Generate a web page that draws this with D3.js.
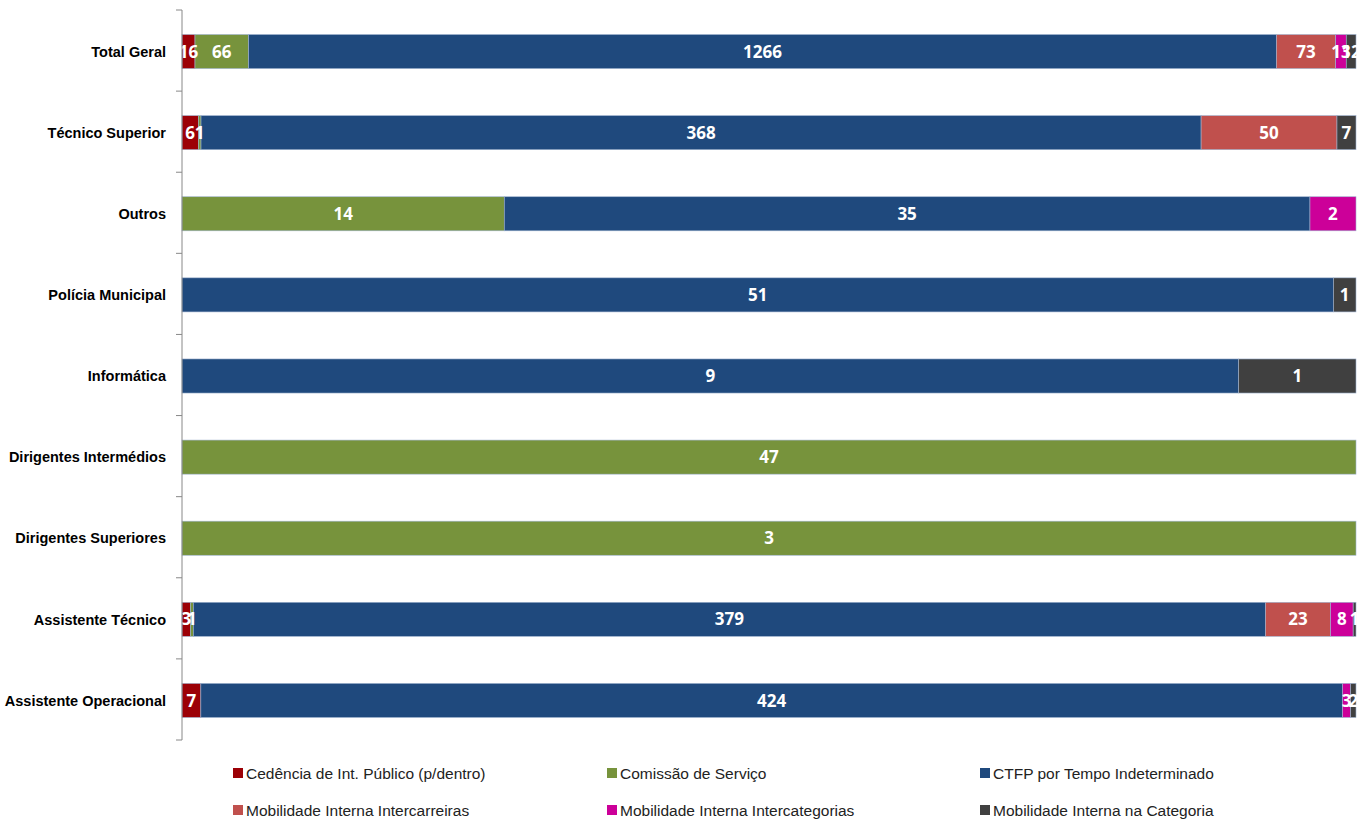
<!DOCTYPE html>
<html>
<head>
<meta charset="utf-8">
<script src="https://d3js.org/d3.v7.min.js"></script>
<style>
  body { margin: 0; background: #fff; }
  .cat text { font: bold 14.5px "Liberation Sans", Arial, sans-serif; fill: #000; }
  .val { font: bold 17px "Open Sans", "Liberation Sans", sans-serif; fill: #fff; }
  .leg text { font: 15.5px "Liberation Sans", sans-serif; fill: #222; }
</style>
</head>
<body>
<div id="chart"></div>
<script>
// categories, top to bottom
var categories = ["Total Geral", "Técnico Superior", "Outros", "Polícia Municipal", "Informática",
  "Dirigentes Intermédios", "Dirigentes Superiores", "Assistente Técnico", "Assistente Operacional"];

var seriesNames = ["Cedência de Int. Público (p/dentro)", "Comissão de Serviço", "CTFP por Tempo Indeterminado",
  "Mobilidade Interna Intercarreiras", "Mobilidade Interna Intercategorias", "Mobilidade Interna na Categoria"];
var seriesColors = ["#9c0006", "#77933c", "#1f497d", "#c0504d", "#cc0099", "#404040"];

// one array per series, same order as categories
var cedencia       = [16, 6, 0, 0, 0, 0, 0, 3, 7];
var comissao       = [66, 1, 14, 0, 0, 47, 3, 1, 0];
var ctfp           = [1266, 368, 35, 51, 9, 0, 0, 379, 424];
var intercarreiras = [73, 50, 0, 0, 0, 0, 0, 23, 0];
var intercategorias= [13, 0, 2, 0, 0, 0, 0, 8, 3];
var naCategoria    = [12, 7, 0, 1, 1, 0, 0, 1, 2];

var seriesValues = [cedencia, comissao, ctfp, intercarreiras, intercategorias, naCategoria];

var W = 1368, H = 820;
var plotL = 182, plotR = 1356, plotT = 10, plotB = 740;

var svg = d3.select("#chart").append("svg").attr("width", W).attr("height", H);

var y = d3.scaleBand().domain(categories).range([plotT, plotB]).paddingInner(0.58).paddingOuter(0.29);
var x = d3.scaleLinear().domain([0, 1]).range([plotL, plotR]);

// build rows for stacking
var rows = categories.map(function (c, i) {
  var r = { cat: c, total: 0 };
  seriesNames.forEach(function (s, j) { r[s] = seriesValues[j][i]; r.total += seriesValues[j][i]; });
  return r;
});
var stack = d3.stack().keys(seriesNames)
  .value(function (d, k) { return d[k] / d.total; });
var layers = stack(rows);

var g = svg.append("g");
layers.forEach(function (layer, j) {
  var lg = g.append("g").attr("fill", seriesColors[j]);
  lg.selectAll("rect").data(layer.filter(function (d) { return d.data[seriesNames[j]] > 0; }))
    .enter().append("rect")
    .attr("x", function (d) { return x(d[0]); })
    .attr("width", function (d) { return x(d[1]) - x(d[0]); })
    .attr("y", function (d) { return y(d.data.cat) + 1; })
    .attr("height", y.bandwidth())
    .attr("stroke", "#9fb3cf").attr("stroke-width", 0.6);
});
// value labels
layers.forEach(function (layer, j) {
  g.append("g").selectAll("text").data(layer.filter(function (d) { return d.data[seriesNames[j]] > 0; }))
    .enter().append("text").attr("class", "val")
    .attr("x", function (d) { return (x(d[0]) + x(d[1])) / 2; })
    .attr("y", function (d) { return y(d.data.cat) + 1 + y.bandwidth() / 2; })
    .attr("dy", "0.36em").attr("text-anchor", "middle")
    .text(function (d) { return d.data[seriesNames[j]]; });
});

// category axis
var axis = svg.append("g").attr("class", "cat");
axis.append("line").attr("x1", plotL).attr("x2", plotL).attr("y1", plotT).attr("y2", plotB)
  .attr("stroke", "#888").attr("stroke-width", 1);
d3.range(categories.length + 1).forEach(function (i) {
  var yy = plotT + i * (plotB - plotT) / categories.length;
  axis.append("line").attr("x1", plotL - 6).attr("x2", plotL).attr("y1", yy).attr("y2", yy)
    .attr("stroke", "#888");
});
axis.selectAll("text").data(categories).enter().append("text")
  .attr("x", 166).attr("y", function (d) { return y(d) + 1 + y.bandwidth() / 2; })
  .attr("dy", "0.36em").attr("text-anchor", "end").text(function (d) { return d; });

// legend
var legX = [233, 607, 980], legY = [773, 810];
var leg = svg.append("g").attr("class", "leg");
seriesNames.forEach(function (s, j) {
  var lx = legX[j % 3], ly = legY[Math.floor(j / 3)];
  leg.append("rect").attr("x", lx).attr("y", ly - 5).attr("width", 10).attr("height", 10).attr("fill", seriesColors[j]);
  leg.append("text").attr("x", lx + 13).attr("y", ly).attr("dy", "0.36em").text(s);
});
</script>
</body>
</html>
